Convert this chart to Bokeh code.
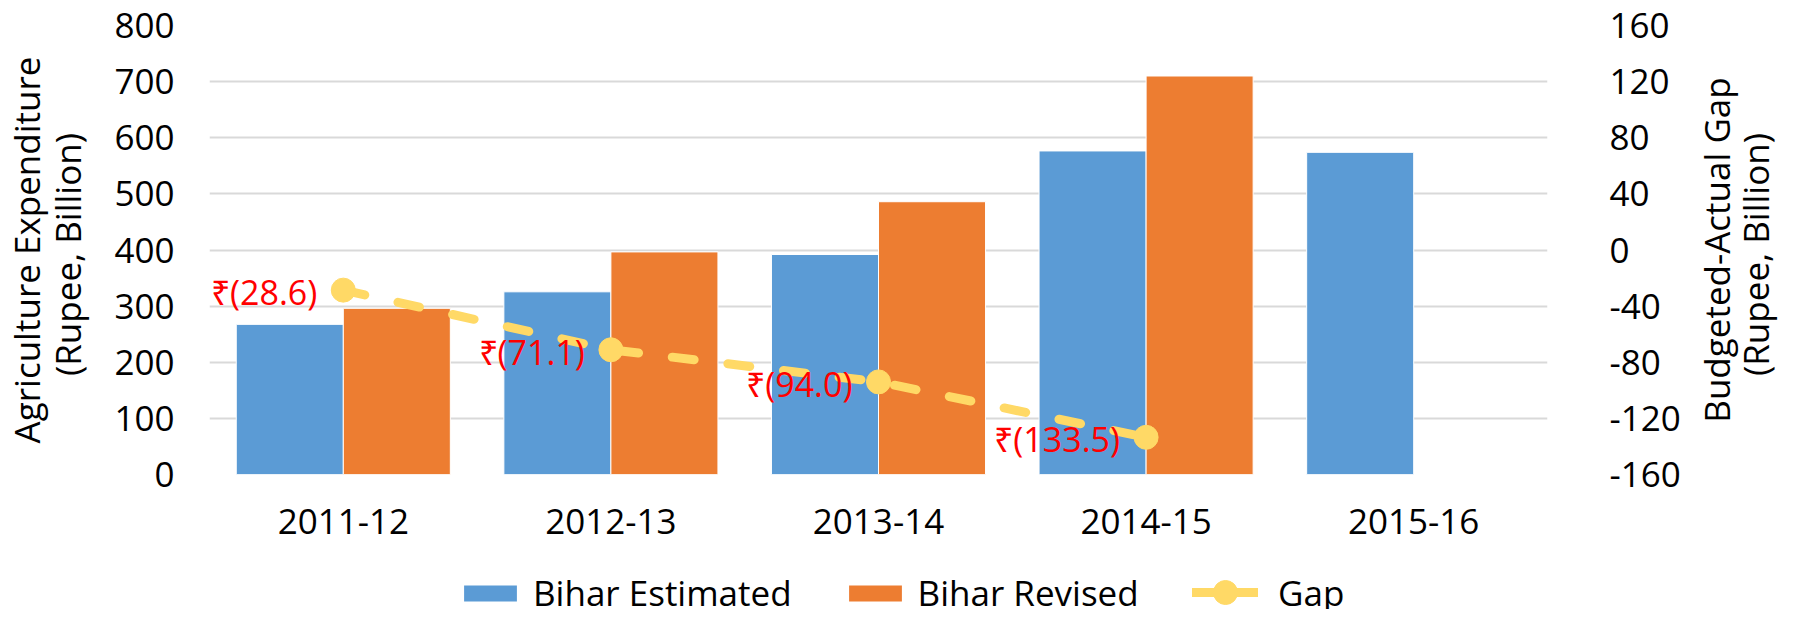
from bokeh.plotting import figure
from bokeh.layouts import column, row
from bokeh.models import (Range1d, LinearAxis, FactorRange, ColumnDataSource, Legend,
                          LegendItem, FixedTicker, LabelSet)
from bokeh.transform import dodge
from bokeh.core.properties import value
from bokeh.embed import file_html
from bokeh.resources import INLINE

# ---- data ----
years = ["2011-12", "2012-13", "2013-14", "2014-15", "2015-16"]
estimated = [267.5, 325.5, 392.0, 576.5, 574.0]
revised = [296.1, 396.6, 486.0, 710.0, float("nan")]
gap_years = ["2011-12", "2012-13", "2013-14", "2014-15"]
gap = [-28.6, -71.1, -94.0, -133.5]
left_ticks = [0, 100, 200, 300, 400, 500, 600, 700, 800]
right_ticks = [-160, -120, -80, -40, 0, 40, 80, 120, 160]
series_names = ["Bihar Estimated", "Bihar Revised", "Gap"]
left_title = "Agriculture Expenditure\n(Rupee,  Billion)"
right_title = "Budgeted-Actual Gap\n(Rupee,  Billion)"

FONT = "Open Sans"
BLUE = "#5B9BD5"
ORANGE = "#ED7D31"
GOLD = "#FFD966"
H_MAIN = 575
H_LEG = 34
W_MAIN = 1683
W_TITLE = 100
TOP = 25
BOTTOM = 101

p = figure(x_range=FactorRange(factors=years), y_range=Range1d(0, 800),
           width=W_MAIN, height=H_MAIN, output_backend="svg", toolbar_location=None,
           min_border_left=190, min_border_right=134, min_border_top=TOP,
           min_border_bottom=BOTTOM)
p.outline_line_color = None
p.background_fill_color = "white"
p.xgrid.visible = False
p.ygrid.grid_line_color = "#D9D9D9"
p.ygrid.grid_line_width = 2

p.yaxis.ticker = FixedTicker(ticks=left_ticks)
p.yaxis.axis_label = left_title
p.extra_y_ranges = {"gap": Range1d(-160, 160)}
rax = LinearAxis(y_range_name="gap", ticker=FixedTicker(ticks=right_ticks))
rax.major_label_overrides = {t: str(t) for t in right_ticks}
p.add_layout(rax, "right")

for ax in [p.yaxis[0], rax]:
    ax.axis_line_color = None
    ax.major_tick_line_color = None
    ax.minor_tick_line_color = None
    ax.major_label_text_font = FONT
    ax.major_label_text_font_size = "35px"
    ax.major_label_text_color = "#000000"
lyax = p.yaxis[0]
lyax.axis_label_text_font = FONT
lyax.axis_label_text_font_size = "35px"
lyax.axis_label_text_font_style = "normal"
lyax.axis_label_text_color = "#000000"
lyax.axis_label_text_line_height = 0.88
lyax.axis_label_standoff = 20
lyax.major_label_standoff = 29
rax.major_label_standoff = 56

xa = p.xaxis[0]
xa.axis_line_color = None
xa.major_tick_line_color = None
xa.minor_tick_line_color = None
xa.major_label_text_font = FONT
xa.major_label_text_font_size = "35px"
xa.major_label_text_color = "#000000"
xa.major_label_standoff = 28

src = ColumnDataSource(dict(year=years, est=estimated, rev=revised))
p.vbar(x=dodge("year", -0.2, range=p.x_range), top="est", width=0.4, source=src,
       fill_color=BLUE, line_color="white", line_width=1)
p.vbar(x=dodge("year", 0.2, range=p.x_range), top="rev", width=0.4, source=src,
       fill_color=ORANGE, line_color="white", line_width=1)

gsrc = ColumnDataSource(dict(year=gap_years, gap=gap,
                             label=["\u20b9(%.1f)" % abs(g) for g in gap]))
p.line("year", "gap", source=gsrc, y_range_name="gap", line_color=GOLD,
       line_width=9, line_dash="22 34", line_cap="round")
p.scatter("year", "gap", source=gsrc, y_range_name="gap", size=24,
          fill_color=GOLD, line_color=GOLD)
labels = LabelSet(x="year", y="gap", text="label", source=gsrc, y_range_name="gap",
                  text_align="right", text_baseline="middle", x_offset=-26, y_offset=-2,
                  text_color="#FF0000", text_font=value(FONT), text_font_size="34px")
p.add_layout(labels)

# ---- right-hand axis title (reads bottom-to-top) ----
tf = figure(width=W_TITLE, height=H_MAIN, output_backend="svg", toolbar_location=None,
            x_range=Range1d(0, 1), y_range=Range1d(0, 1),
            min_border_left=95, min_border_right=0, min_border_top=TOP,
            min_border_bottom=BOTTOM)
tf.xaxis.visible = False
tf.grid.visible = False
tf.outline_line_color = None
ty = tf.yaxis[0]
ty.ticker = FixedTicker(ticks=[])
ty.axis_line_color = None
ty.major_tick_line_color = None
ty.minor_tick_line_color = None
ty.major_label_standoff = 0
ty.axis_label = right_title
ty.axis_label_standoff = 0
ty.axis_label_text_font = FONT
ty.axis_label_text_font_size = "35px"
ty.axis_label_text_font_style = "normal"
ty.axis_label_text_color = "#000000"
ty.axis_label_text_line_height = 0.82

# ---- legend strip ----
lg = figure(width=W_MAIN + W_TITLE, height=H_LEG, output_backend="svg",
            toolbar_location=None, x_range=Range1d(0, 1), y_range=Range1d(0, 1),
            min_border=0)
lg.axis.visible = False
lg.grid.visible = False
lg.outline_line_color = None
nan = float("nan")
dummy = ColumnDataSource(dict(x=[nan], y=[nan]))
l_est = lg.vbar(x="x", top="y", width=0.1, source=dummy, fill_color=BLUE, line_color=None)
l_rev = lg.vbar(x="x", top="y", width=0.1, source=dummy, fill_color=ORANGE, line_color=None)
l_line = lg.line("x", "y", source=dummy, line_color=GOLD, line_width=9, line_cap="round")
l_pt = lg.scatter("x", "y", source=dummy, size=24, fill_color=GOLD, line_color=GOLD)
common = dict(orientation="horizontal", border_line_color=None, background_fill_alpha=0,
              padding=0, margin=0, spacing=50, glyph_width=66,
              label_text_font=FONT, label_text_font_size="35px",
              label_text_color="#000000")
legend_a = Legend(items=[LegendItem(label=series_names[0], renderers=[l_est]),
                         LegendItem(label=series_names[1], renderers=[l_rev])],
                  location=(457, -7), label_standoff=10, glyph_height=20, **common)
legend_b = Legend(items=[LegendItem(label=series_names[2], renderers=[l_line, l_pt])],
                  location=(1192, -13), label_standoff=20, glyph_height=60, **common)
lg.add_layout(legend_a, "center")
lg.add_layout(legend_b, "center")

layout = column(row(p, tf, spacing=0), lg, spacing=0)
open("out.html", "w").write(file_html(layout, INLINE))
